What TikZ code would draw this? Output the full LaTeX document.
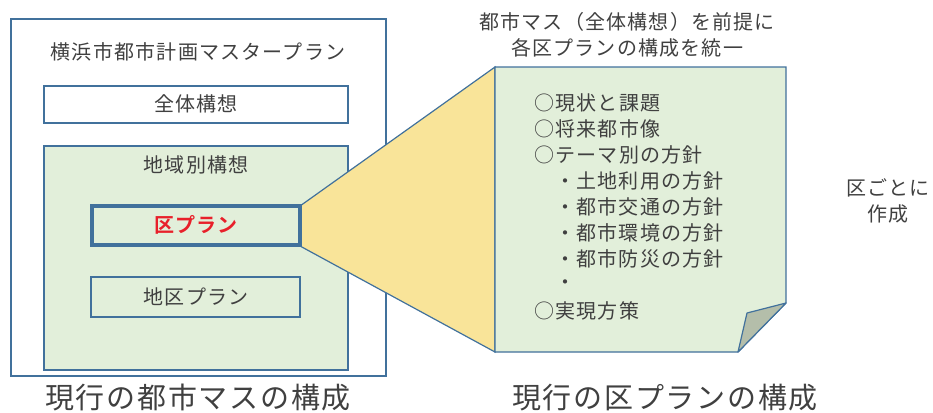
\documentclass[tikz,border=0pt]{standalone}
\usepackage{fontspec}
\setmainfont{Noto Sans CJK JP}[LetterSpace=6]
\newfontfamily\jpbold{Noto Sans CJK JP Bold}[LetterSpace=6]
\definecolor{lineblue}{HTML}{41719C}
\definecolor{greenfill}{HTML}{E2EFDA}
\definecolor{yellowfill}{HTML}{F9E499}
\definecolor{foldfill}{HTML}{B4BEAA}
\definecolor{txt}{HTML}{404040}
\definecolor{redtxt}{HTML}{E8202A}
\begin{document}
\begin{tikzpicture}[x=1pt,y=-1pt,
  box/.style={draw=lineblue,line width=1.2pt},
  lbl/.style={inner sep=0pt,text=txt,font=\fontsize{20}{24}\selectfont},
  item/.style={lbl,anchor=west},
  captxt/.style={inner sep=0pt,text=txt,font=\fontsize{29}{34}\selectfont}]
\useasboundingbox (0,0) rectangle (933,412);
% outer box
\draw[box] (11,19) rectangle (386,376);
\node[lbl] (title) at (198,52) {横浜市都市計画マスタープラン};
\draw[box,fill=white] (44,86) rectangle (348,123);
\node[lbl] (zentai) at (196,104) {全体構想};
\draw[box,fill=greenfill] (44,146) rectangle (348,370);
\node[lbl] (chiiki) at (196,165) {地域別構想};
% yellow trapezoid
\path[draw=lineblue,line width=1.2pt,fill=yellowfill] (300,206) -- (495,67) -- (495,352) -- (300,246);
\draw[draw=lineblue,line width=3.2pt,fill=greenfill] (92,206) rectangle (300,245);
\node[inner sep=0pt,text=redtxt,font=\jpbold\fontsize{20}{24}\selectfont] (ku) at (196,225) {区プラン};
\draw[box] (91,277) rectangle (300,317);
\node[lbl] (chiku) at (196,297) {地区プラン};
% document
\draw[box,fill=greenfill] (495,67) -- (786,67) -- (786,303) -- (738,352) -- (495,352) -- cycle;
\draw[box,fill=foldfill,line join=round] (786,303) -- (747,313) -- (738,352) -- cycle;
\node[item] (l1) at (534,103) {○現状と課題};
\node[item] (l2) at (534,129) {○将来都市像};
\node[item] (l3) at (534,155) {○テーマ別の方針};
\node[item] (l4) at (555,181) {・土地利用の方針};
\node[item] (l5) at (555,207) {・都市交通の方針};
\node[item] (l6) at (555,233) {・都市環境の方針};
\node[item] (l7) at (555,259) {・都市防災の方針};
\node[item] (l8) at (555,285) {・};
\node[item] (l9) at (534,311) {○実現方策};
% top text
\node[lbl] (top1) at (627,22) {都市マス（全体構想）を前提に};
\node[lbl] (top2) at (627,48) {各区プランの構成を統一};
% right text
\node[lbl] (r1) at (888,188) {区ごとに};
\node[lbl] (r2) at (888,214) {作成};
% captions
\node[captxt] (cap1) at (198,398) {現行の都市マスの構成};
\node[captxt] (cap2) at (665,398) {現行の区プランの構成};
\end{tikzpicture}
\end{document}
